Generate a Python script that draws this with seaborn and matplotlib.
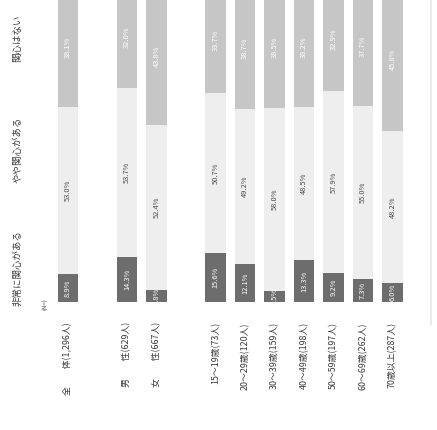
import matplotlib
matplotlib.use("Agg")
import matplotlib.pyplot as plt
import seaborn as sns
import pandas as pd

# Survey groups and their respondents
categories = ["全　　体(1,296人)", "男　　性(629人)", "女　　性(667人)",
              "15～19歳(73人)", "20～29歳(120人)", "30～39歳(159人)",
              "40～49歳(198人)", "50～59歳(197人)", "60～69歳(262人)",
              "70歳以上(287人)"]
slots = [0, 2, 3, 5, 6, 7, 8, 9, 10, 11]
series_names = ["非常に関心がある", "やや関心がある", "関心はない"]

# Share of answers (%)
very_interested = [8.9, 14.3, 3.8, 15.6, 12.1, 3.5, 13.3, 9.2, 7.3, 6.0]
somewhat_interested = [53.0, 53.7, 52.4, 50.7, 49.2, 58.0, 48.5, 57.9, 55.0, 48.2]
not_interested = [38.1, 32.0, 43.8, 33.7, 38.7, 38.5, 38.2, 32.9, 37.7, 45.8]

colors = ["#6d6d6d", "#eeeeee", "#c6c6c6"]
label_colors = ["white", "#4a4a4a", "white"]

df = pd.DataFrame({"slot": slots, "cat": categories,
                   "v1": very_interested, "v2": somewhat_interested,
                   "v3": not_interested})
df["c1"] = df["v1"]
df["c2"] = df["v1"] + df["v2"]
df["c3"] = df["v1"] + df["v2"] + df["v3"]

sns.set_theme(style="white")
plt.rcParams["font.family"] = ["Noto Sans CJK JP", "DejaVu Sans"]

W, H = 437, 430
px_per_pct = 3.15
base_px = 302          # baseline of the bars, from the top of the figure
x0_px, step_px = 68, 29.5

fig = plt.figure(figsize=(W / 100, H / 100), dpi=100)
fig.patch.set_facecolor("white")
ax = fig.add_axes([0, (H - base_px) / H, 1, base_px / H])

# stacked columns: draw cumulative totals from the top segment downwards
for col, color in zip(["c3", "c2", "c1"], colors[::-1]):
    sns.barplot(data=df, x="slot", y=col, native_scale=True, width=0.68,
                color=color, saturation=1, linewidth=0, edgecolor="none",
                ax=ax, errorbar=None)

ax.set_xlim(-x0_px / step_px, (W - x0_px) / step_px)
ax.set_ylim(0, base_px / px_per_pct)
ax.axis("off")

# value labels inside each segment
for _, r in df.iterrows():
    lows = [0, r["c1"], r["c2"]]
    vals = [r["v1"], r["v2"], r["v3"]]
    for i, (lo, v) in enumerate(zip(lows, vals)):
        ax.text(r["slot"], lo + v / 2, f"{v:.1f}%", rotation=90,
                ha="center", va="center", fontsize=5.4,
                color=label_colors[i], clip_on=False)

# category labels below the bars
label_top = (base_px - 322) / px_per_pct
for _, r in df.iterrows():
    ax.text(r["slot"], label_top, r["cat"], rotation=90, ha="center",
            va="top", fontsize=6.4, color="#3a3a3a", clip_on=False)

ax.text((45 - x0_px) / step_px, (base_px - 298) / px_per_pct, "(N=)",
        rotation=90, ha="center", va="top", fontsize=4.3, color="#3a3a3a",
        clip_on=False)

# series headers along the left edge
header_px = [268, 150, 38]
for name, ypx in zip(series_names, header_px):
    ax.text((18 - x0_px) / step_px, (base_px - ypx) / px_per_pct, name,
            rotation=90, ha="center", va="center", fontsize=6.8,
            color="#3a3a3a", clip_on=False)

# edge of the neighbouring panel at the right border
fig.add_artist(plt.Line2D([431 / W, 431 / W], [1 - 0 / H, 1 - 325 / H],
                          transform=fig.transFigure, color="#e6e6e6",
                          linewidth=1.2))

fig.savefig("out.png", dpi=100, facecolor="white")
